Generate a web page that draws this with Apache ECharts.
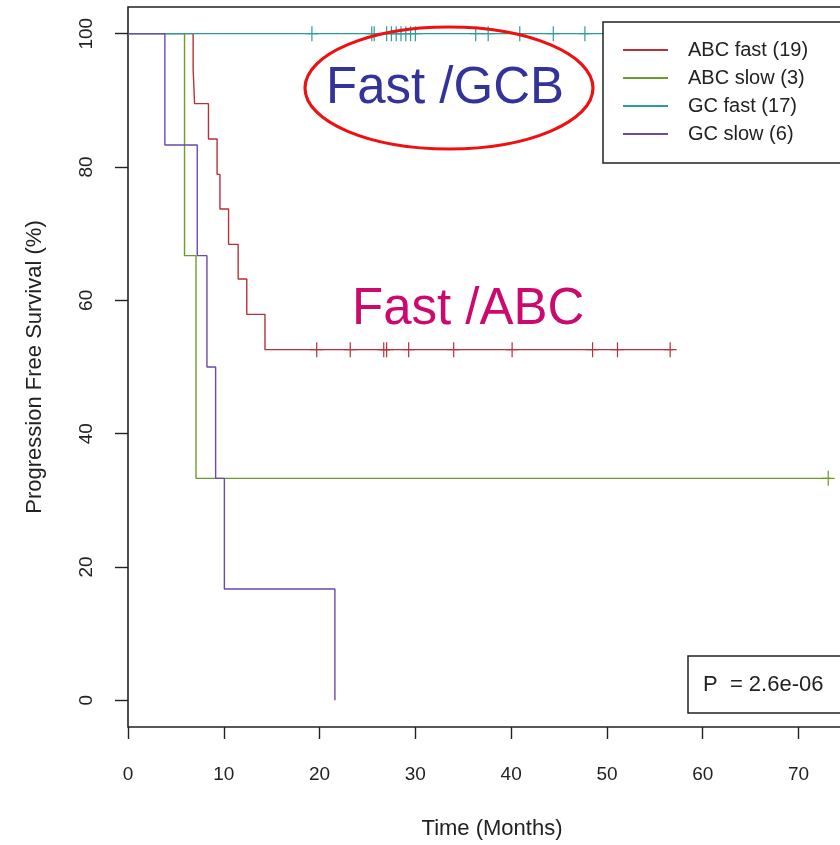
<!DOCTYPE html>
<html>
<head>
<meta charset="utf-8">
<script src="https://cdn.jsdelivr.net/npm/echarts@6/dist/echarts.min.js"></script>
<style>
  html, body { margin: 0; padding: 0; background: #fff; overflow: hidden; width: 840px; height: 845px; }
  /* plot frame runs a little past the right edge of the page */
  #chart { width: 856px; height: 845px; }
</style>
</head>
<body>
<div id="chart"></div>
<script>
// Kaplan-Meier progression free survival, by subtype and growth rate
const xTickValues = [0, 10, 20, 30, 40, 50, 60, 70];
const yTickValues = [0, 20, 40, 60, 80, 100];

const groupNames = ['ABC fast (19)', 'ABC slow (3)', 'GC fast (17)', 'GC slow (6)'];
const groupColors = ['#b8303a', '#6a9e28', '#2a9d9d', '#6a4aa8'];

// step curves: event times (months) and survival (%) after each step
const abcFastTimes = [0, 6.8, 6.95, 8.4, 9.3, 9.6, 10.5, 11.5, 12.4, 14.3, 56.9];
const abcFastSurv  = [100, 94.7, 89.5, 84.2, 78.9, 73.7, 68.4, 63.2, 57.9, 52.6, 52.6];
const abcSlowTimes = [0, 5.9, 7.1, 73.3];
const abcSlowSurv  = [100, 66.7, 33.3, 33.3];
const gcFastTimes  = [0, 58.0];
const gcFastSurv   = [100, 100];
const gcSlowTimes  = [0, 3.85, 7.23, 8.24, 9.15, 10.06, 21.6];
const gcSlowSurv   = [100, 83.3, 66.7, 50.0, 33.3, 16.7, 0];

// censored follow-up times (months) and the curve level they sit on
const abcFastCensor = [19.7, 23.2, 26.7, 27.0, 29.3, 34.0, 40.1, 48.5, 51.1, 56.6];
const abcFastCensorLevel = 52.6;
const abcSlowCensor = [73.1];
const abcSlowCensorLevel = 33.3;
const gcFastCensor = [19.2, 25.45, 25.7, 27.0, 27.5, 28.0, 28.5, 29.0, 29.5, 30.0, 36.3, 37.6, 40.9, 44.4, 47.7, 52.5, 57.8];
const gcFastCensorLevel = 100;
const gcSlowCensor = [];
const gcSlowCensorLevel = 0;

const curves = [
  [abcFastTimes, abcFastSurv],
  [abcSlowTimes, abcSlowSurv],
  [gcFastTimes, gcFastSurv],
  [gcSlowTimes, gcSlowSurv]
];
const censors = [
  [abcFastCensor, abcFastCensorLevel],
  [abcSlowCensor, abcSlowCensorLevel],
  [gcFastCensor, gcFastCensorLevel],
  [gcSlowCensor, gcSlowCensorLevel]
];

const FONT = '"Liberation Sans", Arial, Helvetica, sans-serif';

const series = [];
curves.forEach(([t, s], i) => {
  series.push({
    name: groupNames[i],
    type: 'line',
    step: 'end',
    showSymbol: false,
    symbol: 'none',
    silent: true,
    color: groupColors[i],
    lineStyle: { width: 1.4, color: groupColors[i] },
    data: t.map((x, k) => [x, s[k]])
  });
});
censors.forEach(([t, lvl], i) => {
  series.push({
    name: groupNames[i] + ' censored',
    type: 'scatter',
    silent: true,
    symbol: 'path://M5,0 L5,10 M0,5 L10,5',
    symbolSize: [13, 15],
    itemStyle: { color: 'transparent', borderColor: groupColors[i], borderWidth: 1.3, opacity: 1 },
    data: t.map(x => [x, lvl])
  });
});

const chart = echarts.init(document.getElementById('chart'), null, { renderer: 'canvas' });
chart.setOption({
  animation: false,
  backgroundColor: '#fff',
  textStyle: { fontFamily: FONT },
  grid: {
    left: 128, top: 7, bottom: 118, right: 0,
    show: true, borderColor: '#222', borderWidth: 1.6, backgroundColor: 'transparent'
  },
  xAxis: {
    type: 'value', min: 0, max: 76,
    name: 'Time (Months)', nameLocation: 'middle', nameGap: 91,
    nameTextStyle: { fontSize: 22, color: '#222', fontFamily: FONT },
    axisLine: { show: false, onZero: false },
    axisTick: { show: true, inside: false, length: 12, lineStyle: { color: '#222', width: 1.4 }, customValues: xTickValues },
    axisLabel: { margin: 38, fontSize: 19, color: '#222', fontFamily: FONT, customValues: xTickValues },
    splitLine: { show: false }
  },
  yAxis: {
    type: 'value', min: -4, max: 104,
    name: 'Progression Free Survival (%)', nameLocation: 'middle', nameGap: 82, nameRotate: 90,
    nameTextStyle: { fontSize: 22, color: '#222', fontFamily: FONT },
    axisLine: { show: false, onZero: false },
    axisTick: { show: true, inside: false, length: 13, lineStyle: { color: '#222', width: 1.4 }, customValues: yTickValues },
    axisLabel: { margin: 32, fontSize: 19, color: '#222', rotate: 90, fontFamily: FONT, customValues: yTickValues },
    splitLine: { show: false }
  },
  legend: {
    data: groupNames,
    orient: 'vertical',
    left: 603, top: 22,
    z: 10,
    padding: [14, 40, 15, 20],
    itemGap: 0,
    itemWidth: 45, itemHeight: 2,
    icon: 'rect',
    backgroundColor: '#fff',
    borderColor: '#222', borderWidth: 1.5, borderRadius: 0,
    selectedMode: false,
    textStyle: { fontSize: 20, lineHeight: 28, color: '#222', fontFamily: FONT, padding: [0, 0, 0, 15] }
  },
  graphic: [
    {
      type: 'group', z: 10,
      children: [
        { type: 'rect', shape: { x: 688, y: 656, width: 220, height: 57 },
          style: { fill: '#fff', stroke: '#222', lineWidth: 1.5 } },
        { type: 'text', x: 703, y: 685,
          style: { text: 'P  = 2.6e-06', fontSize: 22, fontFamily: FONT, fill: '#222', verticalAlign: 'middle', align: 'left' } }
      ]
    },
    { type: 'ellipse', z: 20, shape: { cx: 449, cy: 88, rx: 144, ry: 61 },
      style: { fill: 'none', stroke: '#ee1111', lineWidth: 3.2 } },
    { type: 'text', z: 20, x: 326, y: 89,
      style: { text: 'Fast /GCB', fontSize: 51, fontFamily: FONT, fill: '#33339a', verticalAlign: 'middle', align: 'left' } },
    { type: 'text', z: 20, x: 352, y: 310,
      style: { text: 'Fast /ABC', fontSize: 51, fontFamily: FONT, fill: '#cc0a6e', verticalAlign: 'middle', align: 'left' } }
  ],
  series: series
});
</script>
</body>
</html>
